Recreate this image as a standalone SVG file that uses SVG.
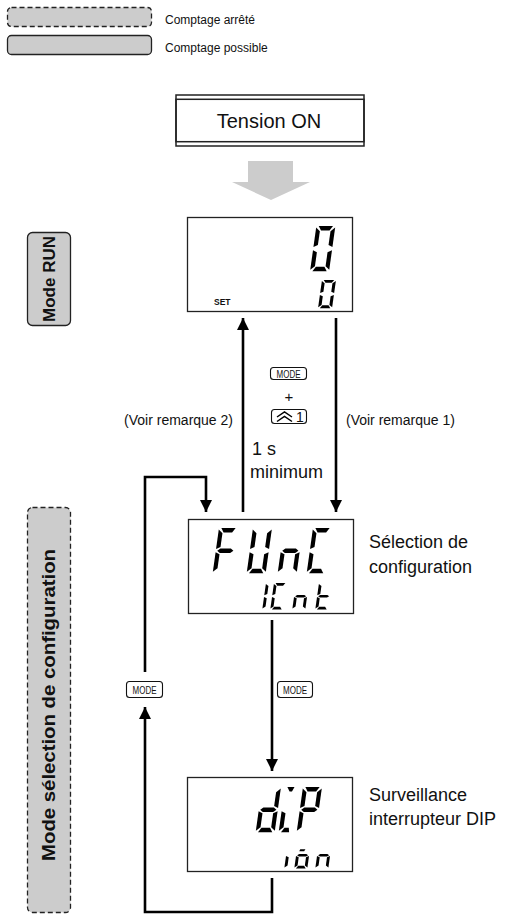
<svg xmlns="http://www.w3.org/2000/svg" width="518" height="914" viewBox="0 0 518 914">
<style>
text{font-family:"Liberation Sans",Arial,sans-serif;fill:#111}
.box{fill:#fff;stroke:#222;stroke-width:1.3}
.gray{fill:#cccccc;stroke:#222;stroke-width:1.3}
.dash{stroke-dasharray:5,3}
.ln{fill:none;stroke:#000;stroke-width:2.6}
.key{fill:#fff;stroke:#111;stroke-width:1.1}
.seg{fill:#000}
.lbl{font-size:14px}
.rt{font-size:18px}
.vt{font-size:17px;font-weight:bold}
.kt{font-size:10px}
</style>
<defs>
<path id="sa" d="M2.5,0 L17.5,0 L14.5,4.4 L5.5,4.4 Z"/>
<path id="sb" d="M20,1.5 L20,20.5 L15.6,18.5 L15.6,5 Z"/>
<path id="sc" d="M20,23.5 L20,42.5 L15.6,39 L15.6,25.5 Z"/>
<path id="sd" d="M5.5,39.6 L14.5,39.6 L17.5,44 L2.5,44 Z"/>
<path id="se" d="M0,23.5 L4.4,25.5 L4.4,39 L0,42.5 Z"/>
<path id="sf" d="M0,1.5 L4.4,5 L4.4,18.5 L0,20.5 Z"/>
<path id="sg" d="M1.5,22 L4.5,19.8 L15.5,19.8 L18.5,22 L15.5,24.2 L4.5,24.2 Z"/>
<marker id="ah" viewBox="0 0 10 10" refX="10" refY="5" markerWidth="4.6" markerHeight="4.6" orient="auto" markerUnits="strokeWidth">
<path d="M0,0 L10,5 L0,10 Z" fill="#000"/>
</marker>
</defs>

<g id="legend">
<rect class="gray dash" x="7.5" y="7.5" width="144" height="19" rx="4"/>
<text x="165" y="24" font-size="12">Comptage arrêté</text>
<rect class="gray" x="7.5" y="35.5" width="144" height="19" rx="4"/>
<text x="165" y="52" font-size="12">Comptage possible</text>
</g>

<g id="mode-run-bar">
<rect class="gray" x="27.5" y="232.5" width="43" height="93" rx="5"/>
<text class="vt" transform="translate(55,279) rotate(-90)" text-anchor="middle">Mode RUN</text>
</g>

<g id="mode-config-bar">
<rect class="gray dash" x="27.5" y="507.5" width="43" height="405" rx="5"/>
<text class="vt" transform="translate(55,705) rotate(-90)" text-anchor="middle" textLength="312" lengthAdjust="spacingAndGlyphs" style="font-size:19px">Mode sélection de configuration</text>
</g>

<g id="tension-on">
<rect x="176" y="95" width="188" height="51" fill="#fff" stroke="#222" stroke-width="1.5"/>
<rect x="176" y="99.3" width="188" height="42.4" fill="none" stroke="#222" stroke-width="1.5"/>
<text x="269" y="127.5" font-size="20" text-anchor="middle">Tension ON</text>
</g>

<g id="power-arrow">
<path d="M248,161 L293,161 L293,182 L310,182 L271,200 L232,182 L248,182 Z" fill="#cccccc"/>
</g>

<g id="run-display">
<rect class="box" x="187.5" y="217.5" width="165" height="94"/>
<text x="214" y="305" font-size="8.5" font-weight="bold">SET</text>
<g transform="translate(316.4,226) skewX(-8) scale(0.95,1.03)" class="seg">
<use href="#sa"/><use href="#sb"/><use href="#sc"/><use href="#sd"/><use href="#se"/><use href="#sf"/>
</g>
<g transform="translate(322,280) skewX(-8) scale(0.7,0.64)" class="seg">
<use href="#sa"/><use href="#sb"/><use href="#sc"/><use href="#sd"/><use href="#se"/><use href="#sf"/>
</g>
</g>

<g id="func-display">
<rect class="box" x="188.5" y="519.5" width="165" height="94"/>
<g class="seg">
<g transform="translate(219,528) skewX(-8) scale(0.95,1.03)"><use href="#sa"/><use href="#sf"/><use href="#sg"/><use href="#se"/></g>
<g transform="translate(253,528) skewX(-8) scale(0.95,1.03)"><use href="#sb"/><use href="#sc"/><use href="#sd"/><use href="#se"/><use href="#sf"/></g>
<g transform="translate(284,528) skewX(-8) scale(0.95,1.03)"><use href="#sg"/><use href="#se"/><use href="#sc"/></g>
<g transform="translate(313,528) skewX(-8) scale(0.95,1.03)"><use href="#sa"/><use href="#sf"/><use href="#se"/><use href="#sd"/></g>
<g transform="translate(266,583) skewX(-8) scale(0.65,0.6)"><use href="#se"/><use href="#sf"/></g>
<g transform="translate(274,583) skewX(-8) scale(0.65,0.6)"><use href="#sa"/><use href="#sf"/><use href="#se"/><use href="#sd"/></g>
<g transform="translate(296,583) skewX(-8) scale(0.65,0.6)"><use href="#sg"/><use href="#se"/><use href="#sc"/></g>
<g transform="translate(319,583) skewX(-8) scale(0.65,0.6)"><use href="#sf"/><use href="#sg"/><use href="#se"/><use href="#sd"/></g>
</g>
</g>

<g id="dip-display">
<rect class="box" x="187.5" y="777.5" width="165" height="94"/>
<g class="seg">
<g transform="translate(262,787) skewX(-8) scale(0.95,1.03)"><use href="#sb"/><use href="#sc"/><use href="#sd"/><use href="#se"/><use href="#sg"/></g>
<g transform="translate(285,787) skewX(-8) scale(0.95,1.03)"><path d="M2.5,0 L10,0 L8,4.4 L5.5,4.4 Z"/><use href="#se"/><path d="M5.5,39.6 L10,39.6 L11,44 L2.5,44 Z"/></g>
<g transform="translate(303,787) skewX(-8) scale(0.95,1.03)"><use href="#sa"/><use href="#sb"/><use href="#sf"/><use href="#sg"/><use href="#se"/></g>
<g transform="translate(288,842) skewX(-8) scale(0.65,0.6)"><use href="#se"/></g>
<g transform="translate(298,842) skewX(-8) scale(0.65,0.6)"><path d="M5,12 L13,12 L11.5,15.5 L4,15.5 Z"/><use href="#sg"/><use href="#sc"/><use href="#sd"/><use href="#se"/></g>
<g transform="translate(319,842) skewX(-8) scale(0.65,0.6)"><use href="#sg"/><use href="#se"/><use href="#sc"/></g>
</g>
</g>

<g id="connectors">
<line class="ln" x1="243" y1="512" x2="243" y2="318" marker-end="url(#ah)"/>
<line class="ln" x1="336" y1="318" x2="336" y2="512" marker-end="url(#ah)"/>
<polyline class="ln" points="145,672 145,477 206,477 206,512" marker-end="url(#ah)"/>
<line class="ln" x1="272" y1="620" x2="272" y2="771" marker-end="url(#ah)"/>
<polyline class="ln" points="272,878 272,912 145,912 145,707" marker-end="url(#ah)"/>
</g>

<g id="labels">
<rect class="key" x="270.5" y="367.5" width="36" height="12" rx="3"/>
<text class="kt" x="288.5" y="377.5" text-anchor="middle" textLength="24" lengthAdjust="spacingAndGlyphs">MODE</text>
<text x="289" y="402" font-size="15" text-anchor="middle">+</text>
<rect class="key" x="271.5" y="409.5" width="35" height="14" rx="3"/>
<polyline points="277,417 284.5,412 292,417" fill="none" stroke="#000" stroke-width="1.5"/>
<polyline points="277,421.5 284.5,416.5 292,421.5" fill="none" stroke="#000" stroke-width="1.5"/>
<text x="300" y="422" font-size="14" text-anchor="middle">1</text>
<text class="lbl" x="233" y="425" text-anchor="end">(Voir remarque 2)</text>
<text class="lbl" x="346" y="425">(Voir remarque 1)</text>
<text x="252" y="455" font-size="18">1 s</text>
<text x="250" y="478" font-size="18">minimum</text>
<text class="rt" x="369" y="548">Sélection de</text>
<text class="rt" x="369" y="573">configuration</text>
<text class="rt" x="369" y="801">Surveillance</text>
<text class="rt" x="369" y="825">interrupteur DIP</text>
<rect class="key" x="126.5" y="681.5" width="36" height="16" rx="3"/>
<text class="kt" x="144.5" y="693.5" text-anchor="middle" textLength="24" lengthAdjust="spacingAndGlyphs">MODE</text>
<rect class="key" x="277.5" y="681.5" width="35" height="16" rx="3"/>
<text class="kt" x="295" y="693.5" text-anchor="middle" textLength="24" lengthAdjust="spacingAndGlyphs">MODE</text>
</g>
</svg>
